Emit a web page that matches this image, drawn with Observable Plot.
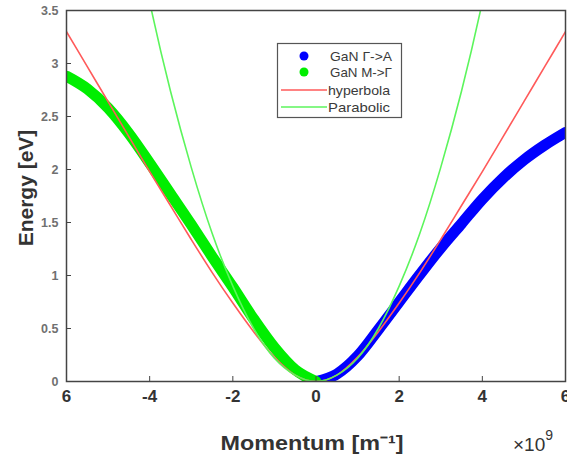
<!DOCTYPE html>
<html>
<head>
<meta charset="utf-8">
<script src="https://cdn.jsdelivr.net/npm/d3@7"></script>
<script src="https://cdn.jsdelivr.net/npm/@observablehq/plot@0.6"></script>
<style>
  body { margin: 0; background: #fff; }
  #chart { position: relative; width: 567px; height: 455px; }
  svg { font-family: Arial, "Liberation Sans", sans-serif; }
</style>
</head>
<body>
<div id="chart"></div>
<script>
// Momentum in units of 1e9 m^-1, energy in eV
const gaK = [0, 0.5, 1, 1.5, 2, 2.5, 3, 3.5, 4, 4.5, 5, 5.5, 6];
const gaE = [0, 0.07, 0.24, 0.49, 0.75, 1.01, 1.26, 1.49, 1.72, 1.92, 2.09, 2.23, 2.35];

const mgK = [-6, -5.5, -5, -4.5, -4, -3.5, -3, -2.5, -2, -1.5, -1, -0.5, 0];
const mgE = [2.88, 2.76, 2.58, 2.34, 2.06, 1.77, 1.48, 1.18, 0.89, 0.59, 0.32, 0.11, 0];

const hypK = [-6, -5.5, -5, -4.5, -4, -3.5, -3, -2.5, -2, -1.5, -1, -0.5, 0, 0.5, 1, 1.5, 2, 2.5, 3, 3.5, 4, 4.5, 5, 5.5, 6];
const hypE = [3.30, 2.97, 2.64, 2.31, 1.98, 1.66, 1.34, 1.03, 0.74, 0.47, 0.23, 0.06, 0, 0.06, 0.23, 0.47, 0.74, 1.03, 1.34, 1.66, 1.98, 2.31, 2.64, 2.97, 3.30];

const parK = [-4.5, -4, -3.5, -3, -2.5, -2, -1.5, -1, -0.5, 0, 0.5, 1, 1.5, 2, 2.5, 3, 3.5, 4, 4.5];
const parE = [4.54, 3.58, 2.74, 2.02, 1.40, 0.90, 0.50, 0.22, 0.06, 0, 0.06, 0.22, 0.50, 0.90, 1.40, 2.02, 2.74, 3.58, 4.54];

const xTicks = [-6, -4, -2, 0, 2, 4, 6];
const xTickLabels = ["6", "-4", "-2", "0", "2", "4", "6"];
const yTicks = [0, 0.5, 1, 1.5, 2, 2.5, 3, 3.5];
const yTickLabels = ["0", "0.5", "1", "1.5", "2", "2.5", "3", "3.5"];

const seriesNames = ["GaN \u0393->A", "GaN M->\u0393", "hyperbola", "Parabolic"];
const seriesColors = ["#0000ff", "#00ee00", "#ff5a5a", "#5cf55c"];

const toRows = (ks, es) => ks.map((k, i) => ({k, e: es[i]}));
const ga = toRows(gaK, gaE);
const mg = toRows(mgK, mgE);
const hyp = toRows(hypK, hypE);
const par = toRows(parK, parE);

const xLab = new Map(xTicks.map((t, i) => [t, xTickLabels[i]]));
const yLab = new Map(yTicks.map((t, i) => [t, yTickLabels[i]]));

const plot = Plot.plot({
  width: 567,
  height: 455,
  marginLeft: 66,
  marginRight: 2,
  marginTop: 10,
  marginBottom: 74,
  x: {domain: [-6, 6]},
  y: {domain: [0, 3.5]},
  marks: [
    Plot.line(ga, {x: "k", y: "e", stroke: seriesColors[0], strokeWidth: 11, strokeLinecap: "round", curve: "monotone-x", clip: true}),
    Plot.line(mg, {x: "k", y: "e", stroke: seriesColors[1], strokeWidth: 11, strokeLinecap: "round", curve: "monotone-x", clip: true}),
    Plot.line(hyp, {x: "k", y: "e", stroke: seriesColors[2], strokeWidth: 1.6, curve: "monotone-x", clip: true}),
    Plot.line(par, {x: "k", y: "e", stroke: seriesColors[3], strokeWidth: 1.6, curve: "natural", clip: true}),
    Plot.frame({stroke: "#444", strokeWidth: 1.5}),
    Plot.axisY({ticks: yTicks, tickSize: -5, tickPadding: 13, tickFormat: d => yLab.get(d), label: null, stroke: "#444"}),
    Plot.axisX({ticks: xTicks, tickSize: -5, tickPadding: 13, tickFormat: d => xLab.get(d), label: null, stroke: "#444"})
  ]
});

document.getElementById("chart").appendChild(plot);
const svg = d3.select(plot);
svg.selectAll('[aria-label="y-axis tick label"]')
  .attr("font-size", 12.5).attr("font-weight", "bold").attr("fill", "#707070");
svg.selectAll('[aria-label="x-axis tick label"]')
  .attr("font-size", 17).attr("font-weight", "bold").attr("fill", "#333");

// axis titles
svg.append("text").attr("x", 312).attr("y", 450).attr("text-anchor", "middle")
  .attr("font-size", 21).attr("font-weight", "bold").attr("fill", "#333")
  .attr("textLength", 183).attr("lengthAdjust", "spacingAndGlyphs")
  .text("Momentum [m\u207B\u00B9]");
svg.append("text").attr("transform", "translate(33,188) rotate(-90)").attr("text-anchor", "middle")
  .attr("font-size", 21).attr("font-weight", "bold").attr("fill", "#333")
  .text("Energy [eV]");
const exp = svg.append("text").attr("x", 513).attr("y", 451).attr("font-size", 19)
  .attr("fill", "#333").attr("text-anchor", "start");
exp.append("tspan").text("\u00D710");
exp.append("tspan").attr("dy", -11).attr("font-size", 14).text("9");

// legend
const lg = svg.append("g");
lg.append("rect").attr("x", 277.5).attr("y", 43.5).attr("width", 124).attr("height", 74)
  .attr("fill", "#fff").attr("stroke", "#555").attr("stroke-width", 1.2);
const rowsY = [56, 72, 90, 107];
seriesNames.forEach((name, i) => {
  if (i < 2) {
    lg.append("circle").attr("cx", 304).attr("cy", rowsY[i]).attr("r", 4.5).attr("fill", seriesColors[i]);
  } else {
    lg.append("line").attr("x1", 281).attr("x2", 327).attr("y1", rowsY[i]).attr("y2", rowsY[i])
      .attr("stroke", seriesColors[i]).attr("stroke-width", 1.6);
  }
  lg.append("text").attr("x", i < 2 ? 330 : 328).attr("y", rowsY[i]).attr("dy", "0.35em")
    .attr("text-anchor", "start").attr("font-size", 13).attr("fill", "#3a3a3a")
    .attr("textLength", 62).attr("lengthAdjust", "spacingAndGlyphs").text(name);
});
</script>
</body>
</html>
